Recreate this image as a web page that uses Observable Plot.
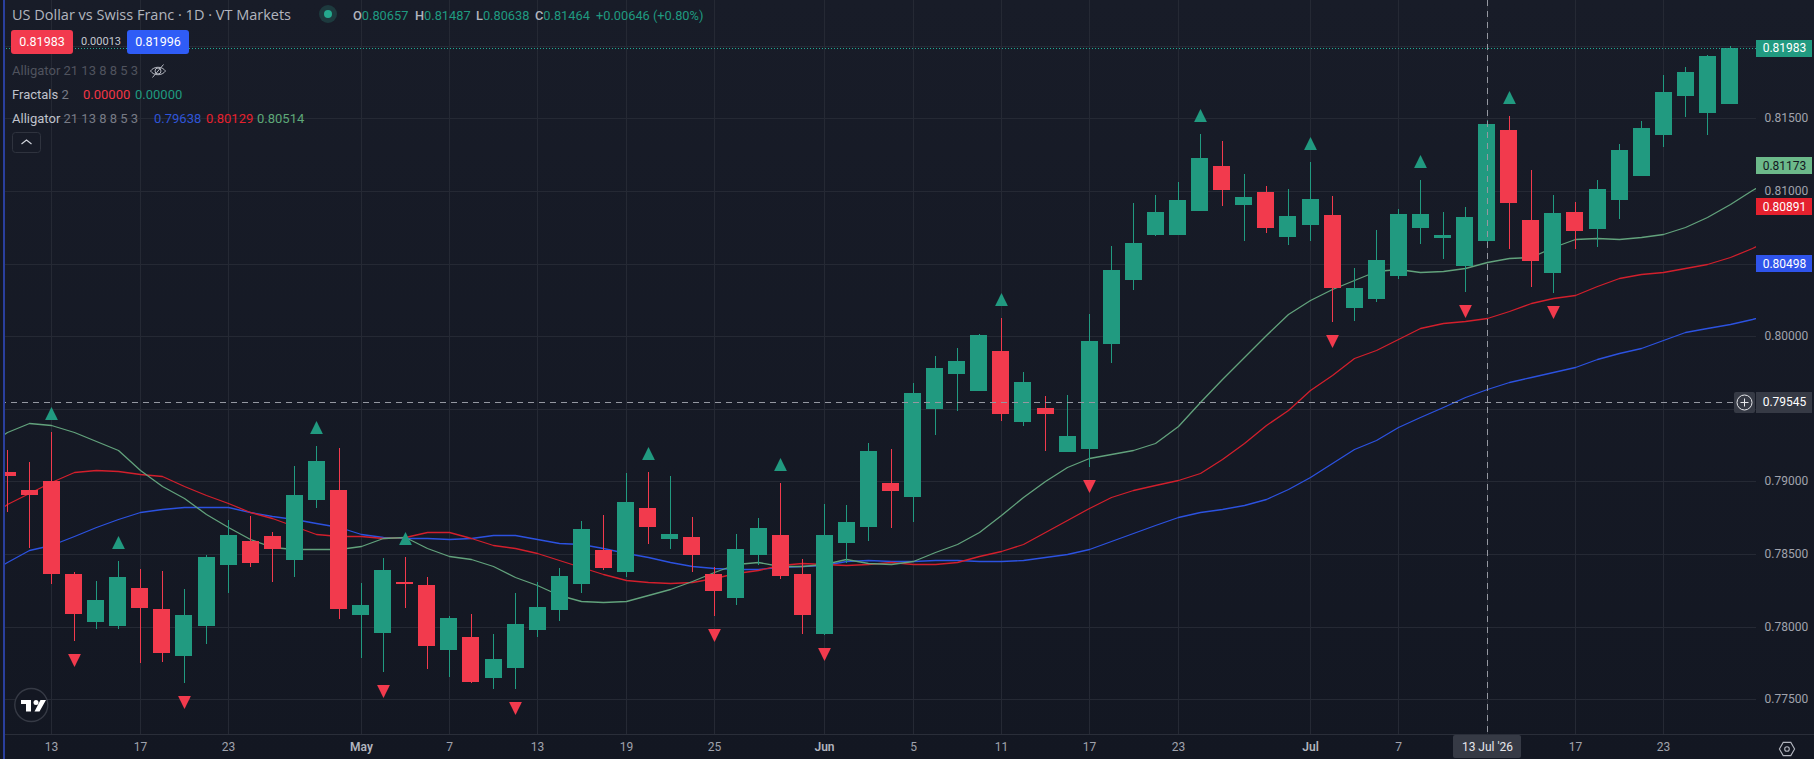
<!DOCTYPE html>
<html>
<head>
<meta charset="utf-8">
<script src="https://cdn.jsdelivr.net/npm/d3@7"></script>
<script src="https://cdn.jsdelivr.net/npm/@observablehq/plot@0.6"></script>
<style>
html,body{margin:0;padding:0;width:1814px;height:759px;overflow:hidden;background:linear-gradient(#181c28 0%,#131722 100%);font-family:Roboto,sans-serif}
#chart{position:absolute;left:0;top:0;z-index:2}
.t{position:absolute;z-index:3;white-space:pre;line-height:16px;font-size:13px;color:#b2b5be}
.b{position:absolute;z-index:3}
.g{color:#1f9a80}.r{color:#f23645}.dim{color:#5d606b}
</style>
</head>
<body>
<div class="b" style="left:1453px;top:735px;width:68px;height:23px;background:#363a45;border-radius:2px;z-index:1"></div>
<div id="chart"></div>
<div class="b" style="left:0;top:0;width:3px;height:759px;background:#131722"></div>
<div class="b" style="left:3px;top:0;width:2px;height:759px;background:#2a3f9d"></div>

<div class="t" style="left:12px;top:7px;font-size:14.5px;font-family:'Open Sans',sans-serif;color:#b2b5be">US Dollar vs Swiss Franc · 1D · VT Markets</div>
<svg class="b" style="left:318px;top:4px" width="20" height="20"><circle cx="10" cy="10" r="9" fill="#1d3a3e"/><circle cx="10" cy="10" r="4" fill="#25a98e"/></svg>
<div class="t" style="left:353px;top:8px;font-size:12.8px"><b style="font-weight:500">O</b><span class="g">0.80657</span></div>
<div class="t" style="left:415px;top:8px;font-size:12.8px"><b style="font-weight:500">H</b><span class="g">0.81487</span></div>
<div class="t" style="left:476px;top:8px;font-size:12.8px"><b style="font-weight:500">L</b><span class="g">0.80638</span></div>
<div class="t" style="left:535px;top:8px;font-size:12.8px"><b style="font-weight:500">C</b><span class="g">0.81464</span></div>
<div class="t g" style="left:596px;top:8px;font-size:12.8px">+0.00646 (+0.80%)</div>

<div class="b" style="left:11px;top:30px;width:62px;height:24px;border-radius:3px;background:#f23a4e;color:#fff;font-size:12.5px;line-height:24px;text-align:center">0.81983</div>
<div class="t" style="left:81px;top:34px;font-size:11px;color:#c4c7d0">0.00013</div>
<div class="b" style="left:127px;top:30px;width:62px;height:24px;border-radius:3px;background:#2f5cf6;color:#fff;font-size:12.5px;line-height:24px;text-align:center">0.81996</div>

<div class="t" style="left:12px;top:63px;font-size:13px;color:#50535e">Alligator 21 13 8 8 5 3</div>
<svg class="b" style="left:149px;top:62px" width="18" height="18" fill="none" stroke="#b2b5be" stroke-width="1"><path d="M1.5 9 C5 4 13 4 16.5 9 C13 14 5 14 1.5 9Z"/><circle cx="9" cy="9" r="3"/><path d="M3.5 15.5 L14.5 2.5"/></svg>
<div class="t" style="left:12px;top:87px"><span style="color:#c0c3cc">Fractals</span> <span style="color:#787b86">2</span></div>
<div class="t r" style="left:83px;top:87px">0.00000</div>
<div class="t g" style="left:135px;top:87px">0.00000</div>
<div class="t" style="left:12px;top:111px"><span style="color:#c0c3cc">Alligator</span> <span style="color:#787b86">21 13 8 8 5 3</span></div>
<div class="t" style="left:154px;top:111px;color:#2f55d8">0.79638</div>
<div class="t" style="left:206px;top:111px;color:#e5212e">0.80129</div>
<div class="t" style="left:257px;top:111px;color:#5ea878">0.80514</div>
<svg class="b" style="left:12px;top:132px" width="29" height="21" fill="none"><rect x=".5" y=".5" width="28" height="20" rx="3" stroke="#2f333e"/><path d="M9.5 12 L14.5 8 L19.5 12" stroke="#d1d4dc" stroke-width="1.2"/></svg>

<svg class="b" style="left:13px;top:687px" width="37" height="37"><circle cx="18.3" cy="18" r="16.5" fill="#131722" stroke="#363a45" stroke-width="1.4"/><path fill="#fff" d="M8 13 H18 V24.5 H13 V17 H8Z M27.5 13 H33 L26.5 24.5 H21.5Z"/><circle cx="23" cy="15.5" r="2.5" fill="#fff"/></svg>
<svg class="b" style="left:1734px;top:392px" width="21" height="21"><rect width="21" height="21" rx="2" fill="#363a45"/><circle cx="10.5" cy="10.5" r="7.5" fill="none" stroke="#e6e7eb" stroke-width="1"/><path d="M10.5 6.5 V14.5 M6.5 10.5 H14.5" stroke="#e6e7eb"/></svg>
<svg class="b" style="left:1778px;top:740px" width="18" height="18" fill="none" stroke="#b2b5be" stroke-width="1.1"><path d="M5.2 2.4 H12.8 L16.6 9 L12.8 15.6 H5.2 L1.4 9Z"/><circle cx="9" cy="9" r="2.3"/></svg>

<script>
const open_ = [0.79065,0.78941,0.79003,0.78363,0.78032,0.78005,0.78266,0.78122,0.77798,0.78005,0.78425,0.78590,0.78624,0.78459,0.78872,0.78941,0.78080,0.77956,0.78307,0.78287,0.77839,0.77929,0.77647,0.77716,0.77977,0.78115,0.78294,0.78528,0.78377,0.78818,0.78604,0.78618,0.78363,0.78198,0.78494,0.78632,0.78363,0.77950,0.78577,0.78687,0.78990,0.78893,0.79499,0.79740,0.79623,0.79898,0.79409,0.79506,0.79203,0.79224,0.79947,0.80387,0.80697,0.80697,0.80863,0.81173,0.80904,0.80994,0.80684,0.80766,0.80835,0.80195,0.80256,0.80415,0.80745,0.80676,0.80484,0.80657,0.81420,0.80800,0.80435,0.80855,0.80738,0.80938,0.81103,0.81386,0.81654,0.81537,0.81599];
const high_ = [0.79217,0.79134,0.79341,0.78376,0.78314,0.78452,0.78397,0.78383,0.78259,0.78494,0.78735,0.78762,0.78652,0.79107,0.79244,0.79230,0.78301,0.78473,0.78480,0.78342,0.78073,0.78088,0.77950,0.78232,0.78308,0.78405,0.78728,0.78770,0.79059,0.79066,0.79038,0.78756,0.78411,0.78639,0.78749,0.78990,0.78466,0.78845,0.78838,0.79265,0.79224,0.79678,0.79864,0.79919,0.80016,0.80126,0.79754,0.79589,0.79595,0.80153,0.80622,0.80918,0.80973,0.81062,0.81393,0.81345,0.81117,0.81035,0.81014,0.81200,0.80966,0.80470,0.80732,0.80876,0.81076,0.80856,0.80890,0.81487,0.81517,0.81145,0.80973,0.80924,0.81076,0.81324,0.81482,0.81799,0.81854,0.81937,0.81999];
const low_ = [0.78792,0.78542,0.78294,0.77901,0.77984,0.77984,0.77750,0.77756,0.77612,0.77880,0.78232,0.78411,0.78308,0.78342,0.78817,0.78053,0.77784,0.77688,0.78128,0.77708,0.77653,0.77612,0.77571,0.77571,0.77929,0.78040,0.78232,0.78391,0.78342,0.78570,0.78535,0.78377,0.78074,0.78150,0.78425,0.78329,0.77950,0.77943,0.78439,0.78590,0.78680,0.78721,0.79320,0.79485,0.79623,0.79416,0.79382,0.79210,0.79203,0.79100,0.79816,0.80318,0.80690,0.80697,0.80863,0.80897,0.80656,0.80711,0.80628,0.80656,0.80098,0.80105,0.80236,0.80394,0.80635,0.80532,0.80305,0.80638,0.80601,0.80339,0.80298,0.80601,0.80614,0.80807,0.81103,0.81303,0.81510,0.81386,0.81599];
const close_ = [0.79038,0.78907,0.78363,0.78087,0.78184,0.78342,0.78128,0.77819,0.78080,0.78480,0.78631,0.78438,0.78535,0.78907,0.79141,0.78122,0.78149,0.78390,0.78294,0.77867,0.78060,0.77619,0.77778,0.78019,0.78136,0.78349,0.78673,0.78404,0.78859,0.78687,0.78639,0.78494,0.78246,0.78535,0.78680,0.78349,0.78081,0.78632,0.78721,0.79210,0.78935,0.79610,0.79781,0.79830,0.80009,0.79465,0.79685,0.79465,0.79313,0.79967,0.80456,0.80642,0.80856,0.80938,0.81228,0.81007,0.80959,0.80746,0.80828,0.80945,0.80332,0.80332,0.80525,0.80842,0.80842,0.80697,0.80821,0.81464,0.80918,0.80518,0.80849,0.80725,0.81014,0.81283,0.81434,0.81682,0.81820,0.81930,0.81983];

// Alligator values for bar positions -1 .. 80 (lines run past the last bar)
const lips = [0.79240,0.79343,0.79405,0.79387,0.79341,0.79281,0.79219,0.79079,0.78969,0.78886,0.78776,0.78689,0.78602,0.78546,0.78533,0.78537,0.78533,0.78558,0.78613,0.78620,0.78544,0.78489,0.78469,0.78418,0.78345,0.78287,0.78219,0.78180,0.78170,0.78177,0.78219,0.78262,0.78315,0.78379,0.78430,0.78446,0.78421,0.78416,0.78434,0.78469,0.78437,0.78430,0.78455,0.78517,0.78572,0.78650,0.78772,0.78891,0.79006,0.79098,0.79159,0.79189,0.79215,0.79267,0.79384,0.79547,0.79703,0.79855,0.80009,0.80151,0.80250,0.80325,0.80385,0.80451,0.80463,0.80442,0.80447,0.80472,0.80514,0.80539,0.80546,0.80617,0.80670,0.80676,0.80672,0.80683,0.80704,0.80750,0.80819,0.80911,0.81007,0.81099];
const teeth = [0.78735,0.78845,0.78923,0.78996,0.79063,0.79077,0.79072,0.79054,0.79035,0.78966,0.78905,0.78849,0.78792,0.78746,0.78693,0.78638,0.78624,0.78622,0.78613,0.78618,0.78650,0.78650,0.78609,0.78563,0.78545,0.78506,0.78460,0.78409,0.78363,0.78324,0.78308,0.78301,0.78306,0.78333,0.78368,0.78393,0.78425,0.78437,0.78430,0.78423,0.78432,0.78448,0.78434,0.78432,0.78446,0.78487,0.78521,0.78572,0.78654,0.78735,0.78820,0.78891,0.78944,0.78978,0.79010,0.79058,0.79153,0.79263,0.79391,0.79492,0.79630,0.79733,0.79851,0.79905,0.79979,0.80054,0.80089,0.80105,0.80129,0.80174,0.80226,0.80261,0.80284,0.80346,0.80403,0.80428,0.80445,0.80468,0.80497,0.80548,0.80605,0.80686];
const jaw = [0.78354,0.78445,0.78526,0.78565,0.78627,0.78684,0.78739,0.78792,0.78813,0.78822,0.78824,0.78824,0.78790,0.78762,0.78742,0.78712,0.78684,0.78638,0.78618,0.78611,0.78608,0.78604,0.78609,0.78629,0.78629,0.78602,0.78579,0.78568,0.78540,0.78510,0.78478,0.78448,0.78418,0.78404,0.78395,0.78400,0.78409,0.78416,0.78423,0.78455,0.78460,0.78450,0.78450,0.78457,0.78462,0.78455,0.78450,0.78457,0.78478,0.78501,0.78535,0.78588,0.78643,0.78698,0.78753,0.78788,0.78811,0.78836,0.78879,0.78948,0.79029,0.79125,0.79221,0.79285,0.79377,0.79446,0.79515,0.79579,0.79638,0.79685,0.79721,0.79756,0.79790,0.79843,0.79882,0.79917,0.79974,0.80027,0.80059,0.80084,0.80116,0.80158];

const fractalUpBars = [2,5,14,18,29,35,45,54,59,64,68];
const fractalUpPrices = [0.79473,0.78585,0.79377,0.78613,0.79199,0.79123,0.80259,0.81526,0.81333,0.81209,0.81650];
const fractalDownBars = [3,8,17,23,32,37,49,60,66,70];
const fractalDownPrices = [0.77770,0.77481,0.77557,0.77440,0.77943,0.77812,0.78969,0.79967,0.80174,0.80167];

const dayTickBars = [2,6,10,20,24,28,32,41,45,49,53,63,71,75];
const dayTickLabels = ["13","17","23","7","13","19","25","5","11","17","23","7","17","23"];
const monthTickBars = [16,37,59];
const monthTickLabels = ["May","Jun","Jul"];
const hoverBar = 67;
const hoverLabel = "13 Jul '26";
const gridPrices = [0.775,0.78,0.785,0.79,0.795,0.80,0.805,0.81,0.815,0.82];
const labelledPrices = [0.775,0.78,0.785,0.79,0.80,0.81,0.815];
const tagPrices = [0.81983,0.81173,0.80891,0.80498,0.79545];
const tagFills = ["#219a80","#6cb98a","#e5212e","#2f54eb","#363a45"];
const tagInk = ["#ffffff","#131722","#ffffff","#ffffff","#ffffff"];

const GREEN = "#219a80", RED = "#f23a4d";
const candles = open_.map((o,i)=>({i,o,h:high_[i],l:low_[i],c:close_[i],col:close_[i]>=o?GREEN:RED}));
const lineRows = a => a.map((v,k)=>({i:k-1,v}));
const up = fractalUpBars.map((i,k)=>({i,p:fractalUpPrices[k]}));
const down = fractalDownBars.map((i,k)=>({i,p:fractalDownPrices[k]}));
const tags = tagPrices.map((p,k)=>({p,fill:tagFills[k],ink:tagInk[k],label:p.toFixed(5),half:k===4?0.000723:0.000585}));
const allTicks = [...dayTickBars,...monthTickBars,hoverBar];
const triUp = {draw(c,s){const r=Math.sqrt(s/Math.PI);c.moveTo(0,-r);c.lineTo(r,r);c.lineTo(-r,r);c.closePath();}};
const triDown = {draw(c,s){const r=Math.sqrt(s/Math.PI);c.moveTo(0,r);c.lineTo(r,-r);c.lineTo(-r,-r);c.closePath();}};
const GRID = "#252934";
const dayFmt = d=>dayTickLabels[dayTickBars.indexOf(d)];
const monFmt = d=>monthTickLabels[monthTickBars.indexOf(d)];
const halfBody = 0.385;

const plot = Plot.plot({
  width:1814,height:759,marginLeft:0,marginRight:58,marginTop:0,marginBottom:25,
  style:{background:"transparent",fontFamily:"Roboto, sans-serif"},
  x:{domain:[-0.3306,79.198],round:true},
  y:{domain:[0.77261,0.82316],round:true},
  marks:[
    Plot.gridY(gridPrices,{stroke:GRID,strokeOpacity:1,strokeWidth:1}),
    Plot.gridX(allTicks,{stroke:GRID,strokeOpacity:1,strokeWidth:1}),
    Plot.ruleY([0.77261],{x1:-0.3306,x2:82,stroke:"#2a2e39",clip:false}),
    Plot.line(lineRows(jaw),{x:"i",y:"v",stroke:"#2c52e0",strokeWidth:1.3,clip:true}),
    Plot.line(lineRows(teeth),{x:"i",y:"v",stroke:"#d21f2c",strokeWidth:1.3,clip:true}),
    Plot.line(lineRows(lips),{x:"i",y:"v",stroke:"#62a27c",strokeWidth:1.3,clip:true}),
    Plot.ruleX(candles,{x:"i",y1:"l",y2:"h",stroke:"col",strokeWidth:1,clip:true}),
    Plot.rect(candles,{x1:d=>d.i-halfBody,x2:d=>d.i+halfBody,y1:d=>Math.min(d.o,d.c),y2:d=>Math.max(d.o,d.c),fill:"col",shapeRendering:"crispEdges",clip:true}),
    Plot.dot(up,{x:"i",y:"p",r:6.4,symbol:triUp,fill:GREEN,stroke:"none"}),
    Plot.dot(down,{x:"i",y:"p",r:6.4,symbol:triDown,fill:RED,stroke:"none"}),
    Plot.ruleY([0.81983],{stroke:"#22ab94",strokeDasharray:"1,2",strokeWidth:1}),
    Plot.ruleY([0.79545],{x1:-0.3306,x2:78.45,stroke:"#9598a1",strokeDasharray:"6,5",strokeWidth:1}),
    Plot.ruleX([hoverBar],{stroke:"#9598a1",strokeDasharray:"6,5",strokeWidth:1}),
    Plot.axisY({anchor:"right",ticks:labelledPrices,tickFormat:d3.format(".5f"),tickSize:0,tickPadding:8,fontSize:12,color:"#a0a3ad",label:null}),
    Plot.axisX({anchor:"bottom",ticks:dayTickBars,tickFormat:dayFmt,tickSize:0,tickPadding:8,fontSize:12,color:"#a0a3ad",label:null}),
    Plot.axisX({anchor:"bottom",ticks:monthTickBars,tickFormat:monFmt,tickSize:0,tickPadding:8,fontSize:12,fontWeight:600,color:"#b2b5be",label:null}),
    Plot.axisX({anchor:"bottom",ticks:[hoverBar],tickFormat:()=>hoverLabel,tickSize:0,tickPadding:8,fontSize:12,color:"#e6e7eb",label:null}),
    Plot.rect(tags,{x1:79.198,x2:81.73,y1:d=>d.p-d.half,y2:d=>d.p+d.half,fill:"fill",shapeRendering:"crispEdges",clip:false}),
    Plot.text(tags,{x:80.48,y:"p",text:"label",fill:"ink",fontSize:12,clip:false})
  ]
});
document.getElementById("chart").append(plot);
</script>
</body>
</html>
